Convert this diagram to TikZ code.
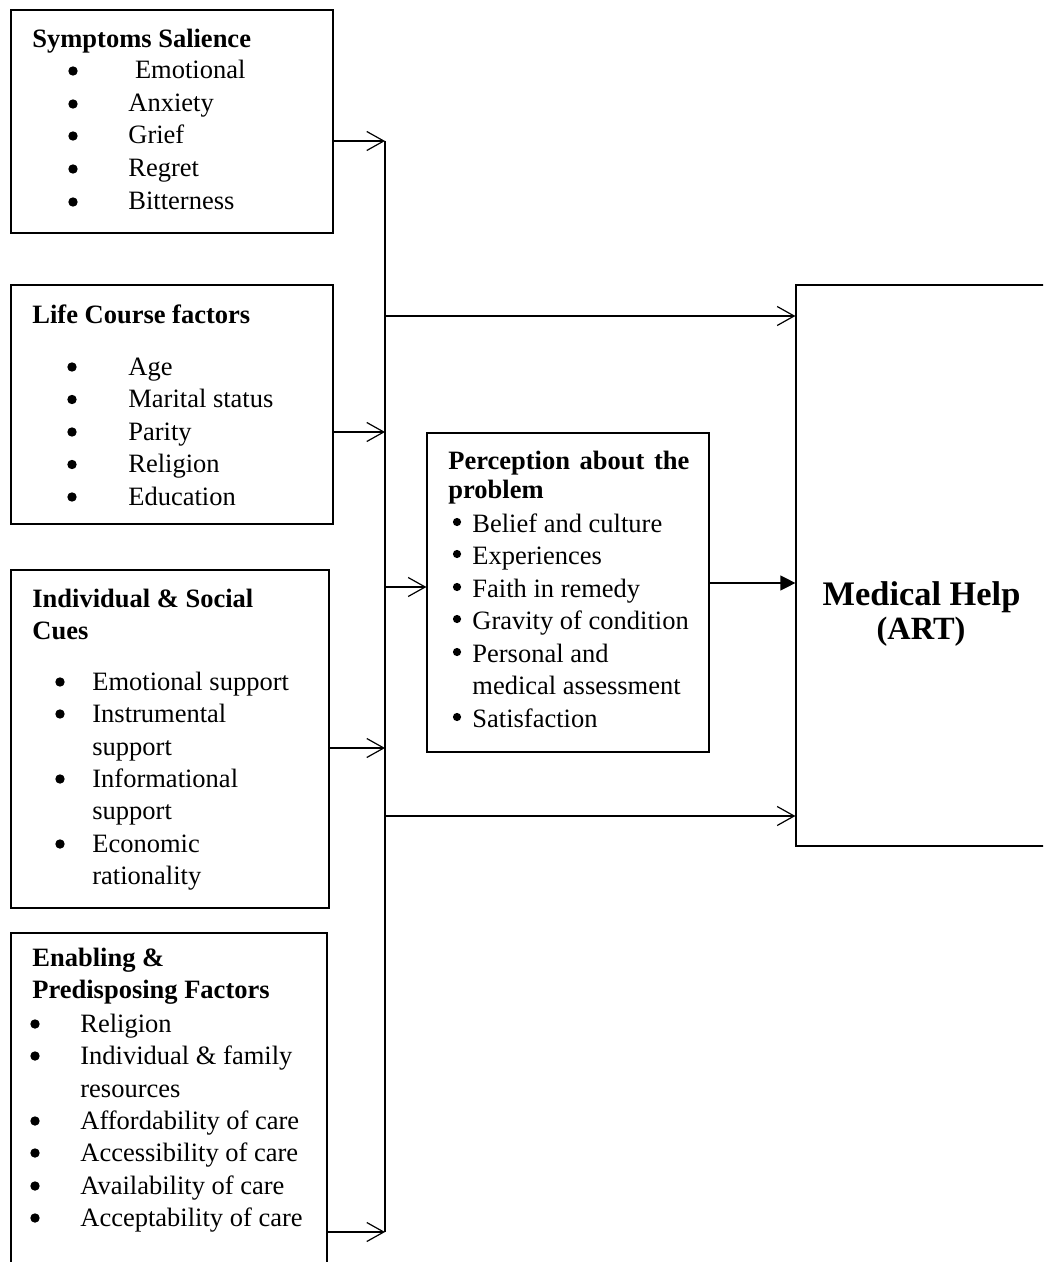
\documentclass[tikz,border=0pt]{standalone}
\usepackage{fontspec}
\setmainfont{Liberation Serif}
\usetikzlibrary{arrows.meta, fit}

\tikzset{
  box/.style={draw, line width=0.6pt, inner sep=0pt},
  head/.style={anchor=base west, inner sep=0pt, yshift=-1pt, font=\fontsize{13.25}{16}\selectfont\bfseries},
  item/.style={anchor=base west, inner sep=0pt, yshift=-1pt, font=\fontsize{13.25}{16}\selectfont},
  bul/.style={circle, fill, inner sep=0pt, minimum size=4.7pt},
  feed/.style={line width=0.6pt, -{Straight Barb[length=8.5pt,width=9.5pt]}},
  link/.style={line width=0.6pt, -{Triangle[length=7.5pt,width=7.5pt]}},
}

\begin{document}
\begin{tikzpicture}[x=0.5pt, y=-0.5pt]
  \clip (0,0) rectangle (1043,1262);

  % Symptoms salience
  \node[box, fit={(11,10) (333,233)}] (symp) {};
  \node[head] (symphead) at (32,46) {Symptoms Salience};
  \foreach \y/\txt [count=\i] in {77/\ Emotional, 110/Anxiety, 142/Grief, 175/Regret, 208/Bitterness} {
    \node[bul] (sympb\i) at (73,\y-6) {};
    \node[item] (sympi\i) at (128,\y) {\txt};
  }

  % Life course factors
  \node[box, fit={(11,285) (333,524)}] (life) {};
  \node[head] (lifehead) at (32,321) {Life Course factors};
  \foreach \y/\txt [count=\i] in {373/Age, 405.5/Marital status, 438/Parity, 470.5/Religion, 503/Education} {
    \node[bul] (lifeb\i) at (72,\y-6) {};
    \node[item] (lifei\i) at (128,\y) {\txt};
  }

  % Individual and social cues
  \node[box, fit={(11,570) (329,908)}] (cues) {};
  \node[head] (cueshead) at (32,605) {Individual \& Social};
  \node[head] (cueshead2) at (32,637) {Cues};
  \foreach \y [count=\i] in {688, 720, 785, 850}
    \node[bul] (cuesb\i) at (60,\y-6) {};
  \foreach \y/\txt [count=\i] in {688/Emotional support, 720/Instrumental, 753/support,
      785/Informational, 817/support, 850/Economic, 882/rationality}
    \node[item] (cuesi\i) at (92,\y) {\txt};

  % Enabling and predisposing factors
  \node[box, fit={(11,933) (327,1300)}] (enab) {};
  \node[head] (enabhead) at (32,964) {Enabling \&};
  \node[head] (enabhead2) at (32,996) {Predisposing Factors};
  \foreach \y [count=\i] in {1030, 1062, 1127, 1159, 1192, 1224}
    \node[bul] (enabb\i) at (35,\y-6) {};
  \foreach \y/\txt [count=\i] in {1030/Religion, 1062/Individual \& family, 1095/resources,
      1127/Affordability of care, 1159/Accessibility of care, 1192/Availability of care,
      1224/Acceptability of care}
    \node[item] (enabi\i) at (80,\y) {\txt};

  % Perception about the problem
  \node[box, fit={(427,433) (709,752)}] (perc) {};
  \node[head] (perchead) at (448,467) {\makebox[120.5pt][s]{Perception about the}};
  \node[head] (perchead2) at (448,496) {problem};
  \foreach \y [count=\i] in {530, 562, 595, 627, 660, 725}
    \node[bul, minimum size=4.1pt] (percb\i) at (457,\y-8) {};
  \foreach \y/\txt [count=\i] in {530/Belief and culture, 562/Experiences, 595/Faith in remedy,
      627/Gravity of condition, 660/Personal and, 692/medical assessment, 725/Satisfaction}
    \node[item] (perci\i) at (472,\y) {\txt};

  % Medical help
  \node[box, fit={(796,285) (1100,846)}] (med) {};
  \node[anchor=base, inner sep=0pt, yshift=-1pt, font=\fontsize{17.2}{20}\selectfont\bfseries] (medname) at (921.5,603) {Medical Help};
  \node[anchor=base, inner sep=0pt, yshift=-1pt, font=\fontsize{16.2}{20}\selectfont\bfseries] (medart) at (921,637) {(ART)};

  % Bus line
  \coordinate (bustop) at (385,141);
  \coordinate (bus2) at (385,432);
  \coordinate (bus3) at (385,748);
  \coordinate (busbot) at (385,1232);
  \coordinate (out1) at (385,316);
  \coordinate (out2) at (385,587);
  \coordinate (out3) at (385,816);
  \coordinate (link) at (709,583);

  \draw[line width=0.6pt] (bustop) -- (busbot);
  \draw[feed] (symp.east |- bustop) -- (bustop);
  \draw[feed] (life.east |- bus2) -- (bus2);
  \draw[feed] (cues.east |- bus3) -- (bus3);
  \draw[feed] (enab.east |- busbot) -- (busbot);

  \draw[feed] (out1) -- (med.west |- out1);
  \draw[feed] (out2) -- (perc.west |- out2);
  \draw[feed] (out3) -- (med.west |- out3);
  \draw[link] (perc.east |- link) -- (med.west |- link);
\end{tikzpicture}
\end{document}
